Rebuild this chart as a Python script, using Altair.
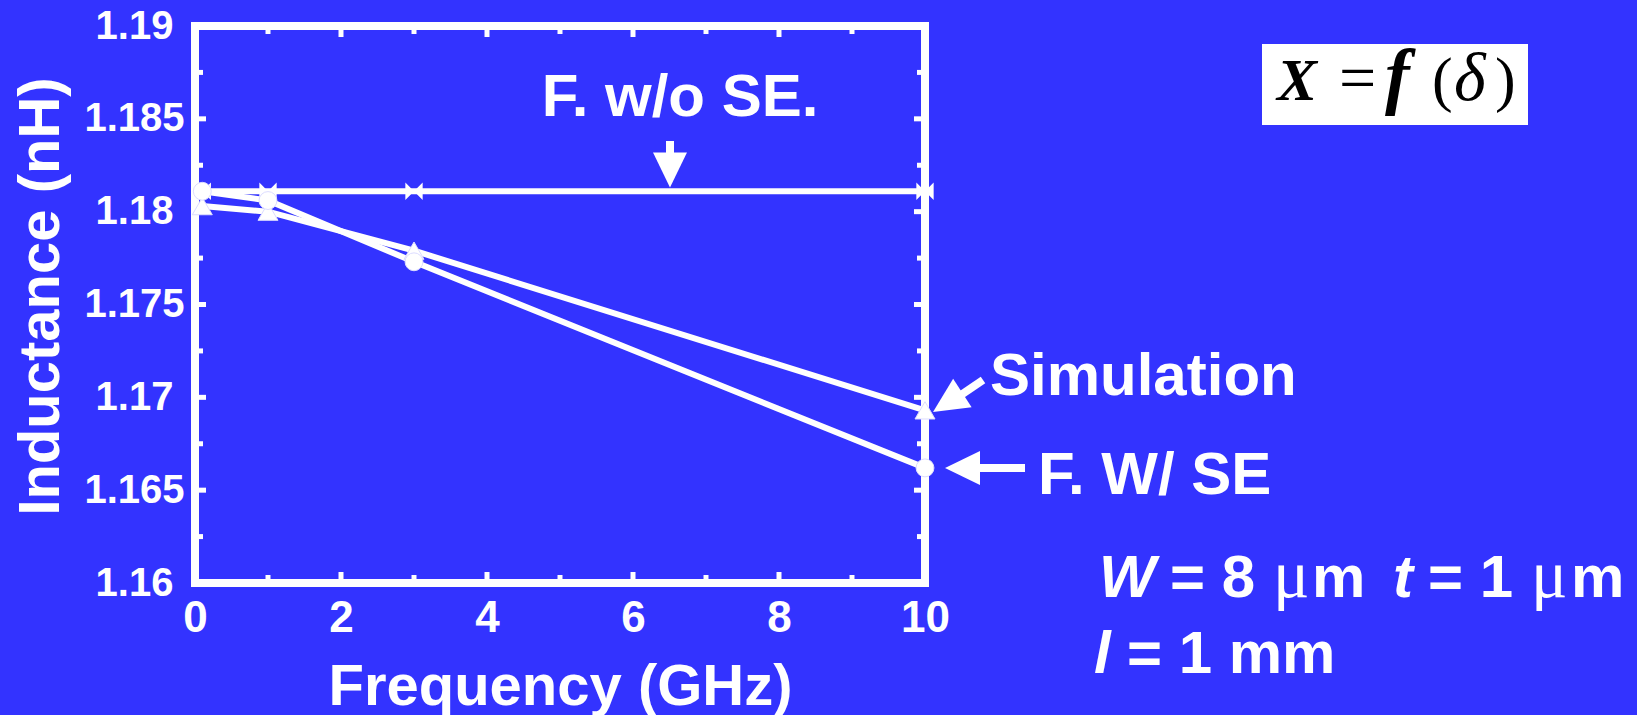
import altair as alt
import pandas as pd

# ---- data ----
freq = [0.1, 1, 3, 10]
L_wo_se = [1.1811, 1.1811, 1.1811, 1.1811]   # F. w/o SE.
L_sim = [1.1803, 1.1800, 1.1779, 1.1693]     # Simulation
L_w_se = [1.1811, 1.1806, 1.1773, 1.1662]    # F. W/ SE

x_labels = [0, 2, 4, 6, 8, 10]
y_labels = [1.16, 1.165, 1.17, 1.175, 1.18, 1.185, 1.19]
x_major_in = [2, 4, 6, 8]
x_minor_in = [1, 3, 5, 7, 9]
y_major_in = [1.165, 1.17, 1.175, 1.18, 1.185]
y_minor_in = [1.1625, 1.1675, 1.1725, 1.1775, 1.1825, 1.1875]

BG = "#3333FF"
W_PLOT, H_PLOT = 730, 557
SANS = "Liberation Sans"
SERIF = "Liberation Serif"

xscale = alt.Scale(domain=[0, 10], nice=False, zero=False)
yscale = alt.Scale(domain=[1.16, 1.19], nice=False, zero=False)

xaxis = alt.Axis(values=x_labels, format="d", title="Frequency (GHz)",
                 labelFontSize=44, labelPadding=13, labelBaseline="top",
                 labelFlush=False,
                 ticks=False, tickSize=0, domain=False, grid=False,
                 titleFontSize=58, titleX=365, titleY=121,
                 titleBaseline="alphabetic", titleAlign="center")
yaxis = alt.Axis(values=y_labels, format=".4~r", title="Inductance (nH)",
                 labelFontSize=40, labelPadding=61, labelAlign="center",
                 labelBaseline="middle", labelFlush=False,
                 ticks=False, tickSize=0, domain=False, grid=False,
                 titleFontSize=58, titleAngle=270, titleX=-137, titleY=270,
                 titleBaseline="alphabetic", titleAlign="center")


def X(field="freq"):
    return alt.X(f"{field}:Q", scale=xscale, axis=xaxis)


def Y(field="L"):
    return alt.Y(f"{field}:Q", scale=yscale, axis=yaxis)


series = pd.DataFrame({
    "freq": freq * 3,
    "L": L_wo_se + L_sim + L_w_se,
    "series": ["F. w/o SE."] * 4 + ["Simulation"] * 4 + ["F. W/ SE"] * 4,
})

lines = alt.Chart(series).mark_line(color="white", strokeWidth=6).encode(
    x=X(), y=Y(), detail="series:N"
)

bowtie = "M-1,-1L1,1L1,-1L-1,1Z"
pts_wo = alt.Chart(series[series.series == "F. w/o SE."]).mark_point(
    shape=bowtie, filled=True, fill="white", size=300, opacity=1, strokeWidth=0
).encode(x=X(), y=Y())
pts_sim = alt.Chart(series[series.series == "Simulation"]).mark_point(
    shape="triangle-up", filled=True, fill="white", size=400, opacity=1,
    stroke="#dcdcff", strokeWidth=1
).encode(x=X(), y=Y())
pts_wse = alt.Chart(series[series.series == "F. W/ SE"]).mark_point(
    shape="circle", filled=True, fill="white", size=320, opacity=1,
    stroke="#dcdcff", strokeWidth=1
).encode(x=X(), y=Y())

# ---- inward ticks on all four sides ----
def xticks(vals, length, bottom=True):
    df = pd.DataFrame({"freq": vals})
    if bottom:
        yy, yy2 = H_PLOT, H_PLOT - length
    else:
        yy, yy2 = 0, length
    return alt.Chart(df).mark_rule(color="white", strokeWidth=5).encode(
        x=X(), y=alt.value(yy), y2=alt.value(yy2))


def yticks(vals, length, left=True):
    df = pd.DataFrame({"L": vals})
    if left:
        xx, xx2 = 0, length
    else:
        xx, xx2 = W_PLOT, W_PLOT - length
    return alt.Chart(df).mark_rule(color="white", strokeWidth=5).encode(
        y=Y(), x=alt.value(xx), x2=alt.value(xx2))


tick_layers = [
    xticks(x_major_in, 11, True), xticks(x_minor_in, 8, True),
    xticks(x_major_in, 11, False), xticks(x_minor_in, 8, False),
    yticks(y_major_in, 11, True), yticks(y_minor_in, 8, True),
    yticks(y_major_in, 11, False), yticks(y_minor_in, 8, False),
]

one = alt.Data(values=[{"a": 1}])


def txt(s, x, y, size=60, font=SANS, weight="bold", style="normal",
        color="white", align="left"):
    return alt.Chart(one).mark_text(
        font=font, fontSize=size, fontWeight=weight, fontStyle=style,
        color=color, align=align, baseline="alphabetic"
    ).encode(x=alt.value(x), y=alt.value(y), text=alt.value(s))


def shaft(x1, y1, x2, y2):
    return alt.Chart(one).mark_rule(color="white", strokeWidth=8).encode(
        x=alt.value(x1), y=alt.value(y1), x2=alt.value(x2), y2=alt.value(y2))


head_path = "M0,-1L0.97,1L-0.97,1Z"


def head(x, y, angle):
    return alt.Chart(one).mark_point(
        shape=head_path, filled=True, fill="white", opacity=1,
        size=1225, strokeWidth=0
    ).encode(x=alt.value(x), y=alt.value(y), angle=alt.value(angle))


# plot origin is at page (195, 26)
annots = [
    # F. w/o SE. with down arrow
    txt("F. w/o SE.", 485, 90, align="center"),
    shaft(475, 115, 475, 132),
    head(475, 144, 180),
    # Simulation with diagonal arrow
    txt("Simulation", 795, 369),
    shaft(788, 354, 763, 371),
    head(752.7, 376.5, 237),
    # F. W/ SE with left arrow
    txt("F. W/ SE", 843, 468),
    shaft(785, 442, 830, 442),
    head(767.5, 442, 270),
    # geometry note
    txt("W", 904, 571, style="italic"),
    txt("= 8", 975, 571),
    txt("\u03bc", 1078, 571, size=68, font=SERIF, weight="normal"),
    txt("m", 1117, 571),
    txt("t", 1198, 571, style="italic"),
    txt("= 1", 1233, 571),
    txt("\u03bc", 1336, 571, size=68, font=SERIF, weight="normal"),
    txt("m", 1376, 571),
    txt("l", 899, 647, style="italic"),
    txt("= 1 mm", 932, 647),
    # X = f(delta) box
    alt.Chart(one).mark_rect(color="white").encode(
        x=alt.value(1067), x2=alt.value(1333), y=alt.value(18), y2=alt.value(99)),
    txt("X", 1082, 74, font=SERIF, style="italic", color="black"),
    txt("=", 1144, 74, size=66, font=SERIF, weight="normal", color="black"),
    txt("f", 1190, 74, size=74, font=SERIF, style="italic", color="black"),
    txt("(", 1237, 74, size=62, font=SERIF, weight="normal", color="black"),
    txt("\u03b4", 1259, 74, size=68, font=SERIF, weight="normal", style="italic", color="black"),
    txt(")", 1300, 74, size=62, font=SERIF, weight="normal", color="black"),
]

chart = alt.layer(
    lines, *tick_layers, pts_wo, pts_sim, pts_wse, *annots
).properties(
    width=W_PLOT, height=H_PLOT,
    autosize=alt.AutoSizeParams(type="none"),
    padding={"left": 187, "top": 18, "right": 704, "bottom": 132},
    background=BG,
).configure_view(
    stroke="white", strokeWidth=8
).configure_axis(
    labelFont=SANS, labelFontWeight="bold", labelColor="white",
    titleFont=SANS, titleFontWeight="bold", titleColor="white",
)

chart.save("out.html", embed_options={
    "renderer": "svg", "actions": False,
    "defaultStyle": "html, body { background: #3333FF; overflow: hidden; }",
})
